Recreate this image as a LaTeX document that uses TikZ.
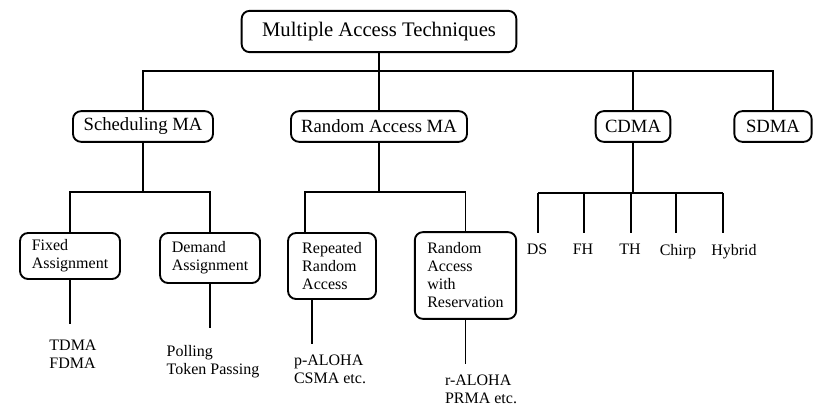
\documentclass[tikz,border=0pt]{standalone}
\usepackage{fontspec}
\setmainfont{Liberation Serif}

\tikzset{every picture/.style={line width=1.4pt}}
\tikzset{
  mabox/.style={draw, rounded corners=6pt, align=left, inner sep=0pt},
  leaf/.style={anchor=north, align=left, inner sep=0pt, font=\fontsize{12}{13.5}\selectfont},
}

\begin{document}
\begin{tikzpicture}[x=0.75pt,y=0.75pt,yscale=-1,xscale=1]
\useasboundingbox (0,0) rectangle (828,406);

%Shape: Rounded Rect [id:top]
\node [mabox, minimum width=206pt, minimum height=31pt, font=\fontsize{15.5}{18}\selectfont] (mat) at (379,31.5) {Multiple Access Techniques};

%Shape: Rounded Rect [id:level two]
\node [mabox, minimum width=105pt, minimum height=23pt, font=\fontsize{14}{16}\selectfont] (sched) at (143,126.5) {Scheduling MA};
\node [mabox, minimum width=132pt, minimum height=23pt, font=\fontsize{14}{16}\selectfont] (ram) at (379,126.5) {Random Access MA};
\node [mabox, minimum width=56pt, minimum height=23pt, font=\fontsize{14}{16}\selectfont] (cdma) at (633,126.5) {CDMA};
\node [mabox, minimum width=58pt, minimum height=23pt, font=\fontsize{14}{16}\selectfont] (sdma) at (773,126.5) {SDMA};

%Shape: Rounded Rect [id:level three]
\node [mabox, minimum width=75pt, minimum height=34.5pt, font=\fontsize{12}{13.5}\selectfont] (fixed) at (70,256) {Fixed\\Assignment};
\node [mabox, minimum width=75pt, minimum height=37.5pt, font=\fontsize{12}{13.5}\selectfont] (demand) at (210,258) {Demand\\Assignment};
\node [mabox, minimum width=66pt, minimum height=49.5pt, font=\fontsize{12}{13.5}\selectfont] (rep) at (332,266) {Repeated\\Random\\Access};
\node [mabox, minimum width=76pt, minimum height=65pt, font=\fontsize{12}{13.5}\selectfont] (resv) at (465.5,275.5) {Random\\Access\\with\\Reservation};

% Text Node
\node [leaf] (tdma) at (73,339) {TDMA\\FDMA};
% Text Node
\node [leaf] (poll) at (213,344) {Polling\\Token Passing};
% Text Node
\node [leaf] (paloha) at (330,354) {p-ALOHA\\CSMA etc.};
% Text Node
\node [leaf] (raloha) at (481,374) {r-ALOHA\\PRMA etc.};

%Straight Lines [id:top bus]
\coordinate (bus) at (0,71);
\draw (mat.south) -- (ram.north);
\draw (sched.north) -- (sched.north |- bus) -| (sdma.north);
\draw (cdma.north) -- (cdma.north |- bus);

%Straight Lines [id:scheduling]
\coordinate (sbus) at (0,192);
\draw (sched.south) -- (sched.south |- sbus);
\draw (fixed.north) -- (fixed.north |- sbus) -| (demand.north);
\draw [shorten >=11pt] (fixed.south) -- (fixed.south |- tdma.north);
\draw [shorten >=12pt] (demand.south) -- (demand.south |- poll.north);

%Straight Lines [id:random access]
\draw (ram.south) -- (ram.south |- sbus);
\draw ([xshift=-20pt]rep.north) -- ([xshift=-20pt]rep.north |- sbus) -| (resv.north);
\draw [shorten >=7.5pt] ([xshift=-15pt]rep.south) -- ([xshift=-15pt]rep.south |- paloha.north);
\draw [shorten >=7.5pt] (resv.south) -- (resv.south |- raloha.north);

%Straight Lines [id:cdma]
\coordinate (cbus) at (0,193);
\draw (cdma.south) -- (cdma.south |- cbus);
\foreach \n/\x/\dx/\t in {ds/538/-1/DS, fh/584/-1/FH, th/631/-1/TH, chirp/676/2/Chirp, hybrid/723/11/Hybrid}{
  \coordinate (c-\n) at (\x,233);
  \node [leaf] (\n) at (\x+\dx,243) {\t};
  \draw (c-\n |- cbus) -- (c-\n);
}
\draw (c-ds |- cbus) -- (c-hybrid |- cbus);

\end{tikzpicture}
\end{document}
